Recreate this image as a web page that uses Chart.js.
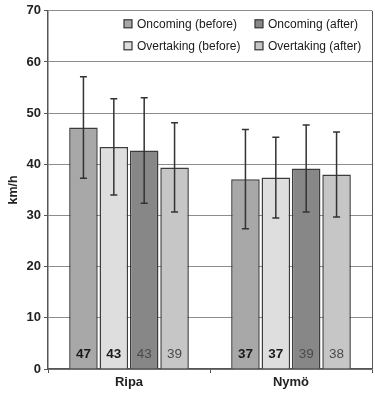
<!DOCTYPE html>
<html>
<head>
<meta charset="utf-8">
<script src="https://cdn.jsdelivr.net/npm/chart.js@4/dist/chart.umd.min.js"></script>
<style>
 html, body { margin: 0; padding: 0; background: #fff; }
 #wrap { width: 375px; height: 393px; }
</style>
</head>
<body>
<div id="wrap"><canvas id="barChart"></canvas></div>
<script>
// データ
const categories = ["Ripa", "Nymö"];
const seriesNames = ["Oncoming (before)", "Overtaking (before)", "Oncoming (after)", "Overtaking (after)"];
const oncomingBefore = [47.2, 37.1];
const overtakingBefore = [43.4, 37.4];
const oncomingAfter = [42.7, 39.2];
const overtakingAfter = [39.4, 38.0];
// 標準偏差（エラーバー）
const oncomingBeforeErr = [9.9, 9.7];
const overtakingBeforeErr = [9.4, 7.9];
const oncomingAfterErr = [10.3, 8.5];
const overtakingAfterErr = [8.7, 8.3];
const yTicks = [0, 10, 20, 30, 40, 50, 60, 70];

const seriesValues = [oncomingBefore, overtakingBefore, oncomingAfter, overtakingAfter];
const seriesErrors = [oncomingBeforeErr, overtakingBeforeErr, oncomingAfterErr, overtakingAfterErr];
const seriesColors = ["#a8a8a8", "#dedede", "#878787", "#c6c6c6"];
const labelBold = [true, true, false, false];
const labelColors = ["#1a1a1a", "#1a1a1a", "#4a4a4a", "#4a4a4a"];
// 凡例の並び（2列）
const legendOrder = [0, 2, 1, 3];

const FONT = "'Liberation Sans', Arial, sans-serif";

const datasets = seriesNames.map((name, i) => ({
 label: name,
 data: seriesValues[i],
 backgroundColor: seriesColors[i],
 borderColor: "#3c3c3c",
 borderWidth: 1.5,
 categoryPercentage: 0.75,
 barPercentage: 0.94
}));

// エラーバーと数値ラベル
const extrasPlugin = {
 id: "extras",
 afterDatasetsDraw(chart) {
  const ctx = chart.ctx;
  const y = chart.scales.y;
  const area = chart.chartArea;
  ctx.save();
  // 右枠
  ctx.strokeStyle = "#555";
  ctx.lineWidth = 1;
  ctx.beginPath();
  ctx.moveTo(area.right + 0.5, area.top);
  ctx.lineTo(area.right + 0.5, area.bottom);
  ctx.stroke();

  chart.data.datasets.forEach((ds, i) => {
   const meta = chart.getDatasetMeta(i);
   meta.data.forEach((bar, j) => {
    const v = ds.data[j];
    const e = seriesErrors[i][j];
    const yTop = y.getPixelForValue(v + e);
    const yBot = y.getPixelForValue(v - e);
    ctx.strokeStyle = "#333";
    ctx.lineWidth = 1.5;
    ctx.beginPath();
    ctx.moveTo(bar.x, yTop);
    ctx.lineTo(bar.x, yBot);
    ctx.moveTo(bar.x - 3.5, yTop);
    ctx.lineTo(bar.x + 3.5, yTop);
    ctx.moveTo(bar.x - 3.5, yBot);
    ctx.lineTo(bar.x + 3.5, yBot);
    ctx.stroke();

    ctx.fillStyle = labelColors[i];
    ctx.font = (labelBold[i] ? "bold " : "") + "13.5px " + FONT;
    ctx.textAlign = "center";
    ctx.textBaseline = "middle";
    ctx.fillText(String(Math.round(v)), bar.x, y.getPixelForValue(0) - 15);
   });
  });

  // 凡例
  const colX = [area.left + 76, area.left + 207];
  const rowY = [area.top + 13, area.top + 35];
  ctx.font = "12px " + FONT;
  ctx.textAlign = "left";
  legendOrder.forEach((idx, k) => {
   const cx = colX[k % 2];
   const cy = rowY[Math.floor(k / 2)];
   ctx.fillStyle = seriesColors[idx];
   ctx.fillRect(cx, cy - 4, 8, 8);
   ctx.strokeStyle = "#333";
   ctx.lineWidth = 1.2;
   ctx.strokeRect(cx, cy - 4, 8, 8);
   ctx.fillStyle = "#1a1a1a";
   ctx.fillText(seriesNames[idx], cx + 13, cy + 1);
  });
  ctx.restore();
 }
};

const config = {
 type: "bar",
 data: {
  labels: categories,
  datasets: datasets
 },
 options: {
  responsive: true,
  maintainAspectRatio: false,
  animation: false,
  layout: { padding: { top: 6, right: 3, left: 0, bottom: 0 } },
  plugins: {
   legend: { display: false },
   tooltip: { enabled: false }
  },
  scales: {
   y: {
    min: 0,
    max: 70,
    afterBuildTicks(scale) {
     scale.ticks = yTicks.map(v => ({ value: v }));
    },
    afterFit(scale) { scale.width = 48; },
    ticks: {
     color: "#222",
     padding: 3,
     font: { family: FONT, size: 13, weight: "bold" }
    },
    grid: {
     color: "#8c8c8c",
     lineWidth: 1,
     tickLength: 4,
     tickColor: "#555"
    },
    border: { color: "#555", width: 1.5 },
    title: {
     display: true,
     text: "km/h",
     color: "#222",
     padding: { top: 6, bottom: 0 },
     font: { family: FONT, size: 12.5, weight: "bold" }
    }
   },
   x: {
    afterFit(scale) { scale.height = 24; },
    ticks: {
     color: "#222",
     padding: 2,
     font: { family: FONT, size: 13, weight: "bold" }
    },
    grid: {
     offset: true,
     drawOnChartArea: false,
     tickLength: 4,
     color: "#555"
    },
    border: { color: "#555", width: 1.5 }
   }
  }
 },
 plugins: [extrasPlugin]
};

const barChart = new Chart(document.getElementById("barChart"), config);
</script>
</body>
</html>
